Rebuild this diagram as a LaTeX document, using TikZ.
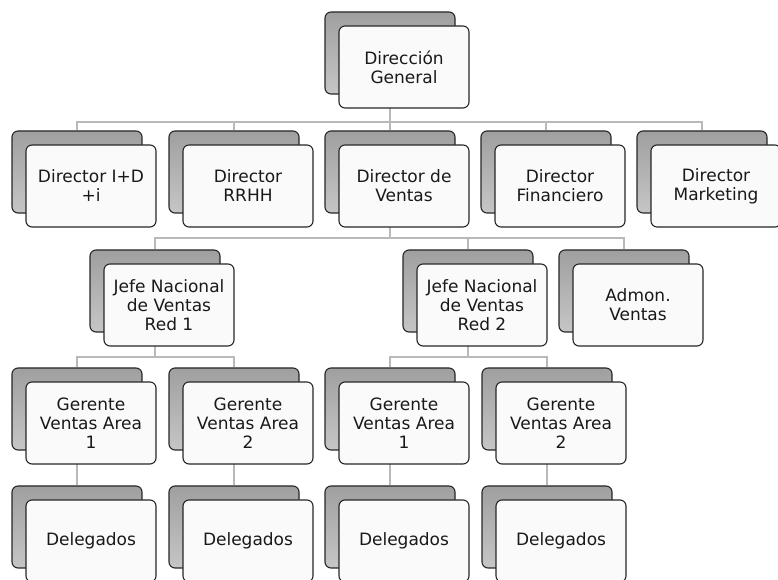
\documentclass[tikz,border=0pt]{standalone}
\usepackage{fontspec}
\setmainfont{DejaVu Sans}
\usetikzlibrary{backgrounds}

% caja doble: nombre, posicion, texto
\newcommand{\caja}[3]{%
  \node[trasera,xshift=-14pt,yshift=14pt] (s-#1) at (#2) {};
  \node[delantera] (#1) at (#2) {#3};}

\begin{document}
\begin{tikzpicture}[x=1pt,y=1pt,
  delantera/.style={draw=black!85,line width=1.1pt,rounded corners=6pt,fill=gray!4,
    minimum width=130pt,minimum height=82pt,inner sep=0pt,align=center,
    text=black!90,font=\fontsize{17}{19}\selectfont},
  trasera/.style={draw=black!85,line width=1.1pt,rounded corners=6pt,
    top color=gray!75,bottom color=gray!45,minimum width=130pt,minimum height=82pt},
  linea/.style={draw=black!65,double=gray!55,double distance=1.4pt,line width=0.6pt}]
\useasboundingbox (0,0) rectangle (778,580);
% nivel 1
\caja{dg}{404,513}{Dirección\\General}
% nivel 2
\caja{did}{91,394}{Director I+D\\+i}
\caja{rrhh}{248,394}{Director\\RRHH}
\caja{ventas}{404,394}{Director de\\Ventas}
\caja{fin}{560,394}{Director\\Financiero}
\caja{mkt}{716,394}{Director\\Marketing}
% nivel 3
\caja{jn1}{169,275}{Jefe Nacional\\de Ventas\\Red 1}
\caja{jn2}{482,275}{Jefe Nacional\\de Ventas\\Red 2}
\caja{admon}{638,275}{Admon.\\Ventas}
% nivel 4
\caja{ga1}{91,157}{Gerente\\Ventas Area\\1}
\caja{ga2}{248,157}{Gerente\\Ventas Area\\2}
\caja{gb1}{404,157}{Gerente\\Ventas Area\\1}
\caja{gb2}{561,157}{Gerente\\Ventas Area\\2}
% nivel 5
\caja{del1}{91,39}{Delegados}
\caja{del2}{248,39}{Delegados}
\caja{del3}{404,39}{Delegados}
\caja{del4}{561,39}{Delegados}
% conectores (detras de las cajas)
\coordinate (b1) at (0,458);
\coordinate (b2) at (0,342);
\coordinate (b3) at (0,223);
\begin{scope}[on background layer]
\foreach \h in {did,rrhh,ventas,fin,mkt}
  \draw[linea] (s-dg.south) -- (s-dg.south |- b1) -| (s-\h.north);
\foreach \h in {jn1,jn2,admon}
  \draw[linea] (s-ventas.south) -- (s-ventas.south |- b2) -| (s-\h.north);
\foreach \h in {ga1,ga2}
  \draw[linea] (s-jn1.south) -- (s-jn1.south |- b3) -| (s-\h.north);
\foreach \h in {gb1,gb2}
  \draw[linea] (s-jn2.south) -- (s-jn2.south |- b3) -| (s-\h.north);
\draw[linea] (s-ga1.south) -- (s-del1.north);
\draw[linea] (s-ga2.south) -- (s-del2.north);
\draw[linea] (s-gb1.south) -- (s-del3.north);
\draw[linea] (s-gb2.south) -- (s-del4.north);
\end{scope}
\end{tikzpicture}
\end{document}
